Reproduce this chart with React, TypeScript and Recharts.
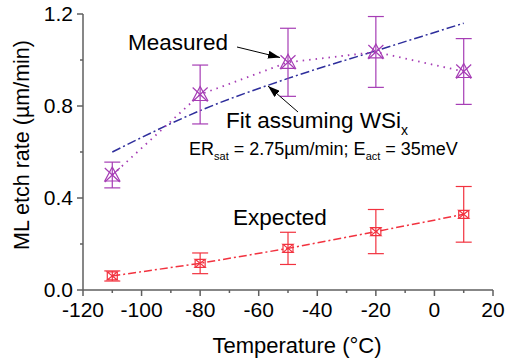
import React from "react";
import { ComposedChart, Line, XAxis, YAxis, ErrorBar } from "recharts";

// temperature (°C) of each run
const temps = [-110, -80, -50, -20, 10];
// measured ML etch rate (µm/min) and its error
const measured = [0.5, 0.85, 0.99, 1.035, 0.95];
const measuredErr = [0.056, 0.128, 0.148, 0.154, 0.143];
// WSix fit curve
const fitRate = [0.6, 0.78, 0.92, 1.04, 1.16];
// expected rate and its error
const expected = [0.061, 0.116, 0.181, 0.254, 0.329];
const expectedErr = [0.022, 0.045, 0.07, 0.096, 0.121];

const xTicks = [-120, -110, -100, -90, -80, -70, -60, -50, -40, -30, -20, -10, 0, 10, 20];
const yTicks = [0, 0.2, 0.4, 0.6, 0.8, 1.0, 1.2];

const PURPLE = "#a63db5";
const NAVY = "#2e2e9c";
const RED = "#f2323f";
const AXIS = "#5f5f5f";
const FONT = "'Liberation Sans', Arial, sans-serif";

const rows = temps.map((t, i) => ({
  t,
  measured: measured[i],
  mErr: measuredErr[i],
  fit: fitRate[i],
  expected: expected[i],
  eErr: expectedErr[i],
}));

function XTick(props: any) {
  const { x, y, payload } = props;
  const major = payload.value % 20 === 0;
  return (
    <g>
      <line x1={x} x2={x} y1={y} y2={y + (major ? 6 : 3)} stroke={AXIS} strokeWidth={1.5} />
      {major && (
        <text x={x} y={y + 27} textAnchor="middle" fontSize={21} fill="#000" fontFamily={FONT}>
          {payload.value}
        </text>
      )}
    </g>
  );
}

function YTick(props: any) {
  const { x, y, payload } = props;
  const major = Math.round(payload.value * 10) % 4 === 0;
  return (
    <g>
      <line x1={x} x2={x - (major ? 6 : 3)} y1={y} y2={y} stroke={AXIS} strokeWidth={1.5} />
      {major && (
        <text x={x - 10} y={y + 7} textAnchor="end" fontSize={21} fill="#000" fontFamily={FONT}>
          {payload.value.toFixed(1)}
        </text>
      )}
    </g>
  );
}

function MeasuredMark(props: any) {
  const { cx, cy } = props;
  if (cx == null || cy == null) return <g />;
  return (
    <g fill="none" stroke={PURPLE} strokeWidth={1.2}>
      <path d={`M${cx},${cy - 8} L${cx + 7.5},${cy + 6} L${cx - 7.5},${cy + 6} Z`} />
      <path d={`M${cx - 7.5},${cy - 7} L${cx + 7.5},${cy + 7} M${cx + 7.5},${cy - 7} L${cx - 7.5},${cy + 7}`} />
    </g>
  );
}

function ExpectedMark(props: any) {
  const { cx, cy } = props;
  if (cx == null || cy == null) return <g />;
  return (
    <g fill="none" stroke={RED} strokeWidth={1.2}>
      <path
        d={`M${cx - 5},${cy - 4} L${cx + 5},${cy - 4} L${cx - 5},${cy + 4} L${cx + 5},${cy + 4} Z`}
      />
      <path d={`M${cx - 5},${cy - 4} L${cx - 5},${cy + 4} M${cx + 5},${cy - 4} L${cx + 5},${cy + 4}`} />
    </g>
  );
}

function Annotations() {
  return (
    <svg
      width={505}
      height={364}
      style={{ position: "absolute", left: 0, top: 0, pointerEvents: "none" }}
      fontFamily={FONT}
    >
      <defs>
        <marker id="head" markerWidth="12" markerHeight="8" refX="12" refY="4" orient="auto" markerUnits="userSpaceOnUse">
          <path d="M0,0 L12,4 L0,8 Z" fill="#000" />
        </marker>
      </defs>
      <line x1={237} y1={47} x2={280} y2={57.5} stroke="#000" strokeWidth={1} markerEnd="url(#head)" />
      <line x1={298} y1={112} x2={268} y2={86} stroke="#000" strokeWidth={1} markerEnd="url(#head)" />
      <text x={128} y={50} fontSize={22.5} fill="#000">Measured</text>
      <text x={226} y={128} fontSize={22.5} fill="#000">
        Fit assuming WSi
        <tspan fontSize={14} dy={7}>x</tspan>
      </text>
      <text x={189} y={155} fontSize={18} fill="#000">
        ER<tspan fontSize={11} dy={5}>sat</tspan>
        <tspan dy={-5}> = 2.75µm/min; E</tspan>
        <tspan fontSize={11} dy={5}>act</tspan>
        <tspan dy={-5}> = 35meV</tspan>
      </text>
      <text x={233} y={225} fontSize={22.5} fill="#000">Expected</text>
      <text
        x={29}
        y={145}
        fontSize={21.5}
        fill="#000"
        textAnchor="middle"
        transform="rotate(-90, 29, 145)"
      >
        ML etch rate (µm/min)
      </text>
      <text x={297} y={353} fontSize={22} fill="#000" textAnchor="middle">
        Temperature (°C)
      </text>
    </svg>
  );
}

export default function App() {
  return (
    <div style={{ position: "relative", width: 505, height: 364, background: "#fff" }}>
      <style>{"body{margin:0}"}</style>
      <ComposedChart width={505} height={364} data={rows} margin={{ top: 14, right: 12, bottom: 0, left: 0 }}>
        <XAxis
          dataKey="t"
          type="number"
          domain={[-120, 20]}
          ticks={xTicks}
          interval={0}
          height={74}
          tickSize={0}
          tickMargin={0}
          tickLine={false}
          axisLine={{ stroke: AXIS, strokeWidth: 1.5 }}
          tick={<XTick />}
          allowDataOverflow
        />
        <YAxis
          type="number"
          domain={[0, 1.2]}
          ticks={yTicks}
          interval={0}
          width={83}
          tickSize={0}
          tickMargin={0}
          tickLine={false}
          axisLine={{ stroke: AXIS, strokeWidth: 1.5 }}
          tick={<YTick />}
          allowDataOverflow
        />
        <Line
          dataKey="fit"
          type="monotone"
          stroke={NAVY}
          strokeWidth={1.5}
          strokeDasharray="9 3 2 3"
          dot={false}
          isAnimationActive={false}
        />
        <Line
          dataKey="measured"
          type="linear"
          stroke={PURPLE}
          strokeWidth={1.8}
          strokeDasharray="1.5 5"
          dot={(p: any) => <MeasuredMark key={`m${p.index}`} {...p} />}
          isAnimationActive={false}
        >
          <ErrorBar dataKey="mErr" direction="y" width={8} stroke={PURPLE} strokeWidth={1.2} />
        </Line>
        <Line
          dataKey="expected"
          type="linear"
          stroke={RED}
          strokeWidth={1.5}
          strokeDasharray="8 3 2 3"
          dot={(p: any) => <ExpectedMark key={`e${p.index}`} {...p} />}
          isAnimationActive={false}
        >
          <ErrorBar dataKey="eErr" direction="y" width={8} stroke={RED} strokeWidth={1.2} />
        </Line>
      </ComposedChart>
      <Annotations />
    </div>
  );
}
